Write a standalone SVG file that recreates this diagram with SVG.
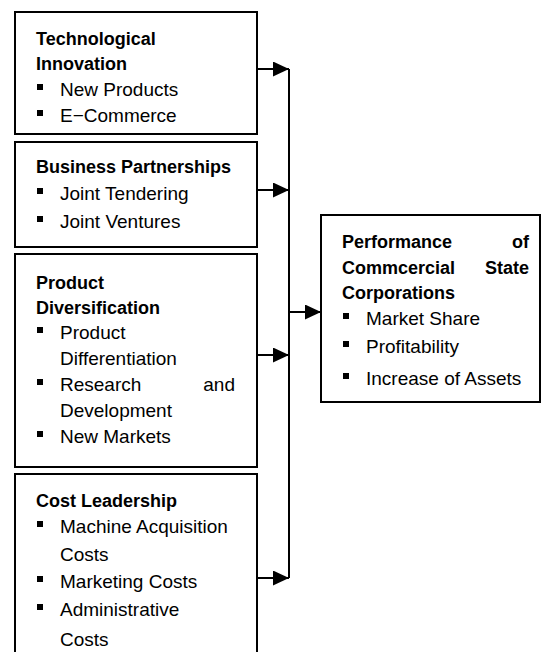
<svg xmlns="http://www.w3.org/2000/svg" width="542" height="655" viewBox="0 0 542 655">
<style>
.box{fill:#fff;stroke:#000;stroke-width:2}
.t{font-family:"Liberation Sans",Arial,sans-serif;font-size:18px;font-weight:bold;fill:#000}
.r{font-family:"Liberation Sans",Arial,sans-serif;font-size:19px;fill:#000}
.b{fill:#000}
.c{stroke:#000;stroke-width:2;fill:none}
</style>
<defs>
<marker id="ah" markerUnits="userSpaceOnUse" markerWidth="16" markerHeight="15" refX="16" refY="7.5" orient="auto">
<path d="M0,0 L16,7.5 L0,15 z" fill="#000"/>
</marker>
<clipPath id="cut"><rect x="0" y="0" width="542" height="652"/></clipPath>
</defs>
<rect width="542" height="655" fill="#fff"/>
<g id="connectors">
<line class="c" x1="289" y1="69" x2="289" y2="578"/>
<line class="c" x1="257" y1="69" x2="289" y2="69" marker-end="url(#ah)"/>
<line class="c" x1="257" y1="190" x2="289" y2="190" marker-end="url(#ah)"/>
<line class="c" x1="257" y1="355" x2="289" y2="355" marker-end="url(#ah)"/>
<line class="c" x1="257" y1="578" x2="289" y2="578" marker-end="url(#ah)"/>
<line class="c" x1="289" y1="312" x2="321" y2="312" marker-end="url(#ah)"/>
</g>
<g id="technological-innovation">
<rect class="box" x="15" y="12" width="242" height="122"/>
<text class="t" x="36" y="45">Technological</text>
<text class="t" x="36" y="70">Innovation</text>
<rect class="b" x="37" y="84" width="6" height="6"/>
<text class="r" x="60" y="96">New Products</text>
<rect class="b" x="37" y="110" width="6" height="6"/>
<text class="r" x="60" y="122">E−Commerce</text>
</g>
<g id="business-partnerships">
<rect class="box" x="15" y="142" width="242" height="105"/>
<text class="t" x="36" y="173">Business Partnerships</text>
<rect class="b" x="37" y="188" width="6" height="6"/>
<text class="r" x="60" y="200">Joint Tendering</text>
<rect class="b" x="37" y="216" width="6" height="6"/>
<text class="r" x="60" y="228">Joint Ventures</text>
</g>
<g id="product-diversification">
<rect class="box" x="15" y="254" width="242" height="213"/>
<text class="t" x="36" y="289">Product</text>
<text class="t" x="36" y="314">Diversification</text>
<rect class="b" x="37" y="327" width="6" height="6"/>
<text class="r" x="60" y="339">Product</text>
<text class="r" x="60" y="365">Differentiation</text>
<rect class="b" x="37" y="379" width="6" height="6"/>
<text class="r" x="60" y="391">Research</text>
<text class="r" x="235" y="391" text-anchor="end">and</text>
<text class="r" x="60" y="417">Development</text>
<rect class="b" x="37" y="431" width="6" height="6"/>
<text class="r" x="60" y="443">New Markets</text>
</g>
<g id="cost-leadership">
<rect class="box" x="15" y="474" width="242" height="200" clip-path="url(#cut)"/>
<text class="t" x="36" y="507">Cost Leadership</text>
<rect class="b" x="37" y="521" width="6" height="6"/>
<text class="r" x="60" y="533">Machine Acquisition</text>
<text class="r" x="60" y="561">Costs</text>
<rect class="b" x="37" y="576" width="6" height="6"/>
<text class="r" x="60" y="588">Marketing Costs</text>
<rect class="b" x="37" y="604" width="6" height="6"/>
<text class="r" x="60" y="616">Administrative</text>
<text class="r" x="60" y="646">Costs</text>
</g>
<g id="performance">
<rect class="box" x="321" y="215" width="219" height="187"/>
<text class="t" x="342" y="248">Performance</text>
<text class="t" x="529" y="248" text-anchor="end">of</text>
<text class="t" x="342" y="274">Commcercial</text>
<text class="t" x="529" y="274" text-anchor="end">State</text>
<text class="t" x="342" y="299">Corporations</text>
<rect class="b" x="343" y="313" width="6" height="6"/>
<text class="r" x="366" y="325">Market Share</text>
<rect class="b" x="343" y="341" width="6" height="6"/>
<text class="r" x="366" y="353">Profitability</text>
<rect class="b" x="343" y="373" width="6" height="6"/>
<text class="r" x="366" y="385">Increase of Assets</text>
</g>
</svg>
